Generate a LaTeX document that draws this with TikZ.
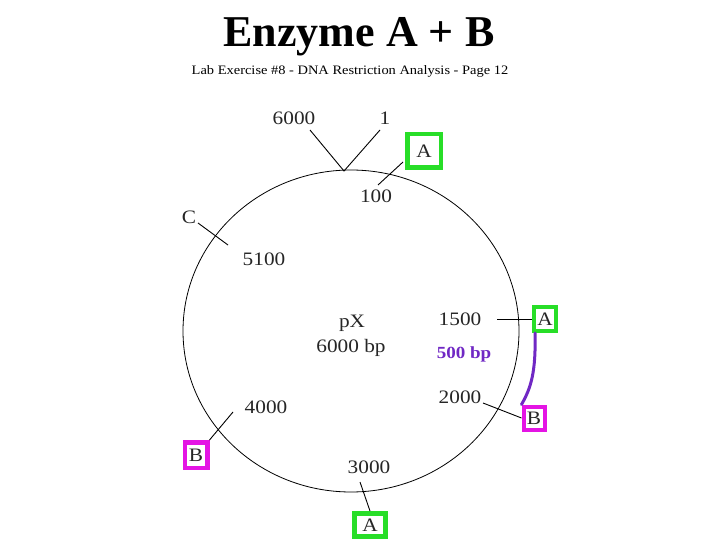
\documentclass[tikz,border=0pt]{standalone}
\usepackage{fontspec}
\setmainfont{Liberation Serif}
\newfontfamily\lblfont[FakeStretch=1.12]{Liberation Serif}
\usetikzlibrary{shapes.geometric}
\definecolor{boxgreen}{RGB}{40,222,40}
\definecolor{boxmag}{RGB}{228,20,228}
\definecolor{bppurple}{RGB}{112,40,196}
\begin{document}
\begin{tikzpicture}[x=1pt,y=-1pt,
  lbl/.style={font=\lblfont\fontsize{19}{19}\selectfont, inner sep=0pt, anchor=base, text=black!85},
  tickline/.style={line width=0.9pt},
  letterbox/.style={line width=4.5pt, fill=white, inner sep=0pt, font=\lblfont\fontsize{19}{19}\selectfont, text=black!85},
  gbox/.style={letterbox, draw=boxgreen},
  mbox/.style={letterbox, draw=boxmag}]
\useasboundingbox (0,0) rectangle (720,540);

% titles
\node[font=\bfseries\fontsize{44}{44}\selectfont, inner sep=0pt, anchor=base] (title) at (359,47) {Enzyme A + B};
\node[font=\lblfont\fontsize{12.9}{12.9}\selectfont, inner sep=0pt, anchor=base] (sub) at (350,75) {Lab Exercise \#8 - DNA Restriction Analysis - Page 12};

% plasmid
\node[draw, ellipse, line width=0.8pt, minimum width=336pt, minimum height=322pt, inner sep=0pt] (plasmid) at (351,331) {};

% origin 6000 / 1
\node[lbl] (l6000) at (294,125) {6000};
\node[lbl] (l1) at (385,125) {1};
\coordinate (ori) at (344,171);
\coordinate (e6000) at (310,130);
\coordinate (e1) at (380,130);
\draw[tickline] (e6000) -- (ori) -- (e1);

% A at 100
\node[gbox, minimum width=33.5pt, minimum height=33.5pt] (Atop) at (424,151) {A};
\node[lbl] (l100) at (376,203) {100};
\coordinate (t100a) at (403,162);
\coordinate (t100b) at (378,185);
\draw[tickline] (t100a) -- (t100b);

% C at 5100
\node[lbl] (lC) at (189,223) {C};
\node[lbl] (l5100) at (264,265) {5100};
\coordinate (tCa) at (198,223);
\coordinate (tCb) at (228,245);
\draw[tickline] (tCa) -- (tCb);

% center
\node[lbl] (pX) at (352,327) {pX};
\node[lbl] (pXbp) at (351,352) {6000 bp};

% A at 1500
\node[lbl] (l1500) at (460,325) {1500};
\node[gbox, line width=4pt, minimum width=22pt, minimum height=24pt] (Aright) at (545,319) {A};
\coordinate (t1500) at (497,319);
\draw[tickline] (t1500) -- (Aright.west);

% 500 bp fragment
\node[font=\bfseries\lblfont\bfseries\fontsize{17}{17}\selectfont, text=bppurple, inner sep=0pt, anchor=base] (bp500) at (464,358) {500 bp};

% B at 2000
\node[lbl] (l2000) at (460,403) {2000};
\node[mbox, line width=4pt, minimum width=21pt, minimum height=23pt] (Bright) at (534,418) {B};
\coordinate (t2000) at (483,403);
\draw[tickline] (t2000) -- (Bright.west);

\draw[bppurple, line width=3pt, line cap=round] (Aright.south west) ++(3,0) coordinate (pstart)
  .. controls (536,372) and (531,388) .. (Bright.north west);

% B at 4000
\node[lbl] (l4000) at (266,413) {4000};
\node[mbox, line width=4.5pt, minimum width=22.5pt, minimum height=25.5pt] (Bleft) at (196,455) {B};
\coordinate (t4000) at (233,412);
\draw[tickline] (t4000) -- (Bleft.north east);

% A at 3000
\node[lbl] (l3000) at (369,473) {3000};
\node[gbox, line width=5pt, minimum width=31pt, minimum height=23pt] (Abot) at (370,525) {A};
\coordinate (t3000) at (360,482);
\draw[tickline] (t3000) -- (Abot.north);
\end{tikzpicture}
\end{document}
